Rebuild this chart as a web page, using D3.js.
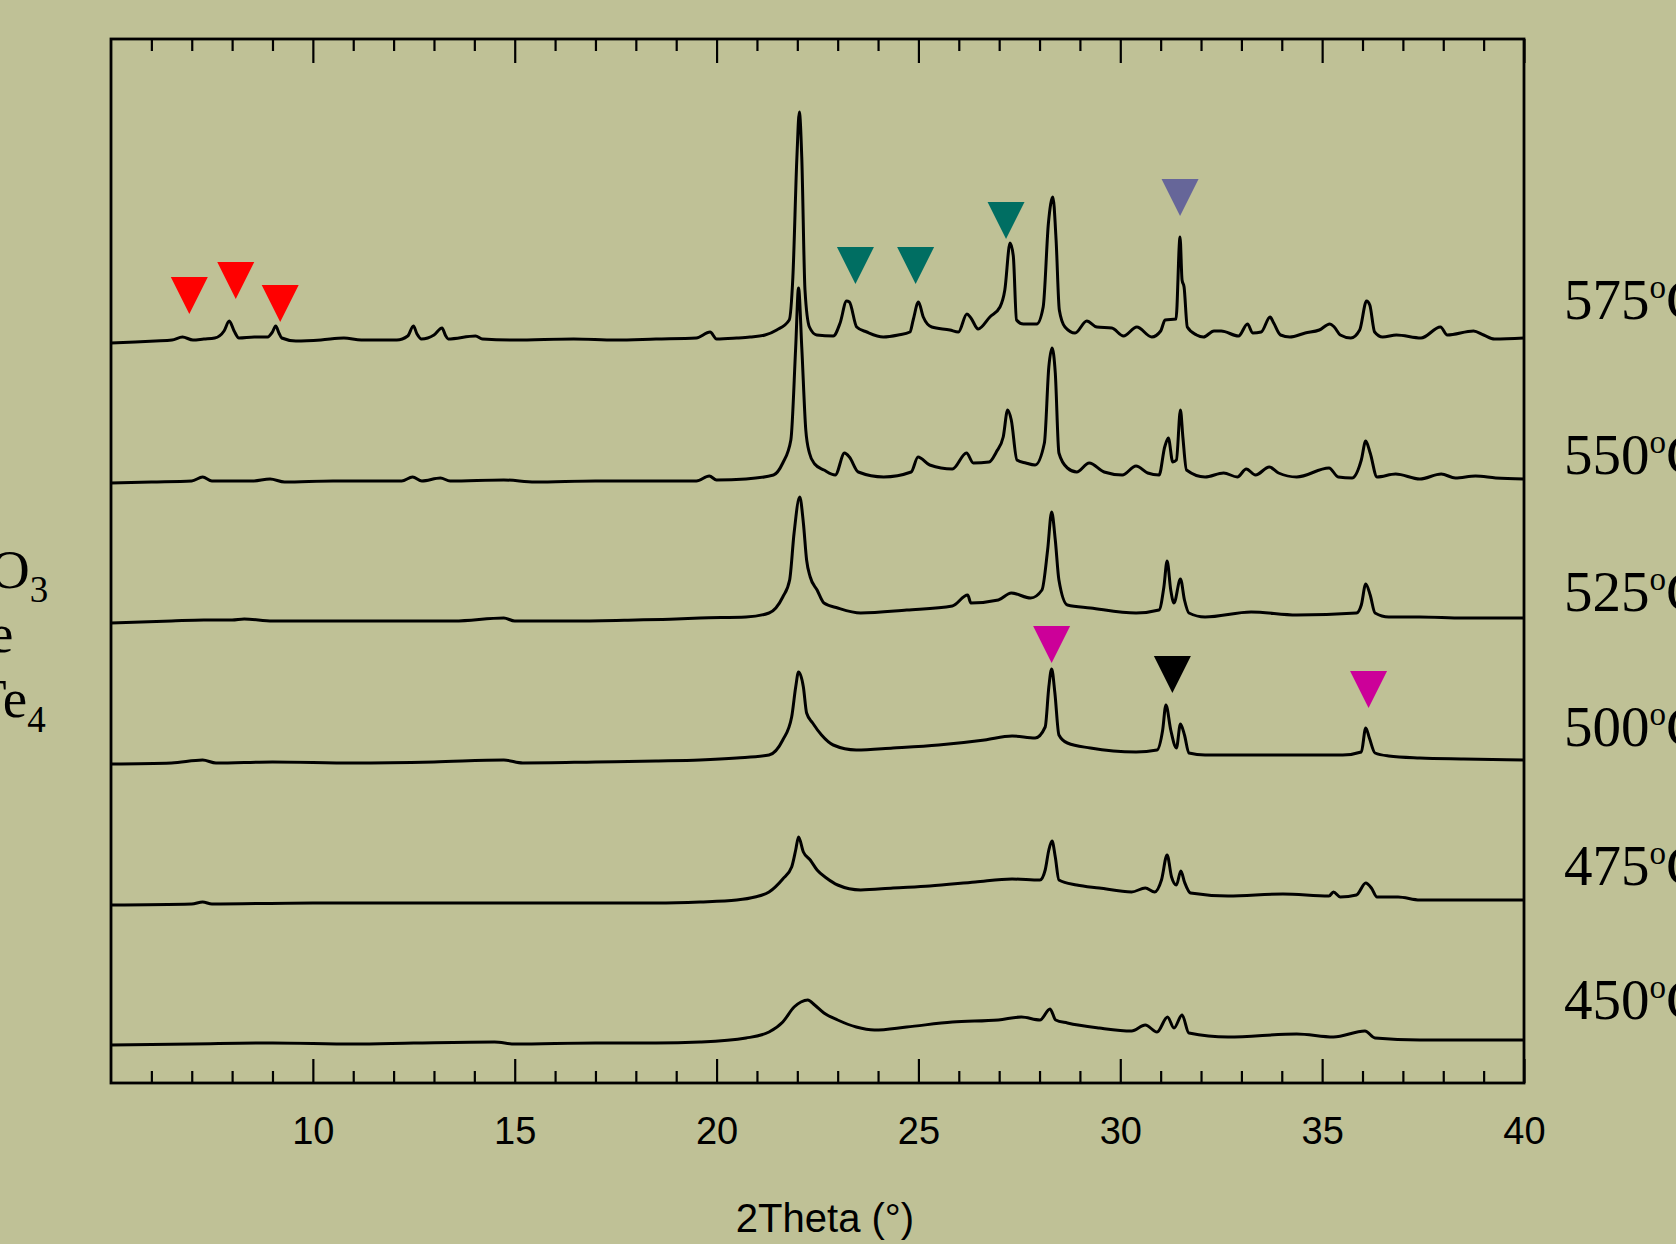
<!DOCTYPE html>
<html>
<head>
<meta charset="utf-8">
<script src="https://cdn.jsdelivr.net/npm/d3@7"></script>
<style>
  html, body { margin: 0; padding: 0; background: #bfc196; overflow: hidden; }
  svg { display: block; }
</style>
</head>
<body>
<svg id="chart" width="1676" height="1244"></svg>
<script>
// ---- XRD patterns, one per annealing temperature: [2theta (deg), intensity above the pattern's own baseline (a.u.)]
const temperatures = [575, 550, 525, 500, 475, 450];
const stackOffsets = [740, 600, 460, 319, 178, 38];   // vertical offset of each pattern in the stack (a.u.)

const pattern575 = [
  [5.0,0],[5.6,1],[6.1,2],[6.51,3],[6.77,6],[7.03,3],[7.3,4],[7.57,5],[7.8,12],[7.93,22],[8.05,12],[8.17,5],
  [8.55,6],[8.88,6],[9.0,11],[9.08,17],[9.16,10],[9.23,5],[9.58,2],[10.2,3],[10.77,5],[11.2,3],[12.08,3],
  [12.35,7],[12.49,17],[12.58,9],[12.69,4],[13.0,8],[13.2,15],[13.28,8],[13.35,4],[14.03,7],[14.2,4],[15.0,3],
  [16.46,4],[17.5,3],[18.5,4],[19.5,5],[19.84,11],[20.0,4],[20.5,5],[20.83,6],[21.2,8],[21.49,13],[21.8,23],
  [21.89,66],[21.99,186],[22.05,231],[22.11,186],[22.19,53],[22.3,16],[22.48,8],[22.89,7],[23.06,20],[23.22,42],
  [23.29,41],[23.47,16],[23.72,11],[24.13,6],[24.5,8],[24.79,11],[24.87,23],[25.0,41],[25.12,26],[25.33,16],
  [25.78,13],[25.99,11],[26.2,29],[26.3,25],[26.48,14],[26.77,26],[27.02,36],[27.14,53],[27.27,100],[27.35,87],
  [27.43,23],[27.6,19],[27.93,19],[28.09,36],[28.22,120],[28.33,146],[28.41,103],[28.49,33],[28.63,16],[28.88,10],
  [29.17,22],[29.42,16],[29.79,15],[30.08,7],[30.41,16],[30.78,6],[31.0,12],[31.11,23],[31.38,24],[31.48,106],
  [31.53,63],[31.58,56],[31.66,16],[31.89,8],[32.06,6],[32.32,12],[32.5,12],[32.93,7],[33.15,19],[33.28,10],
  [33.49,11],[33.71,26],[33.8,20],[33.97,8],[34.2,6],[34.58,10],[34.93,13],[35.19,19],[35.3,16],[35.45,8],
  [35.71,5],[35.93,13],[36.1,42],[36.18,38],[36.3,11],[36.5,6],[36.84,8],[37.45,5],[37.93,16],[38.1,8],
  [38.75,12],[39.0,8],[39.27,4],[40.0,5]
];

const pattern550 = [
  [5.0,0],[6.0,1],[7.0,2],[7.27,6],[7.5,2],[8.5,2],[8.94,4],[9.3,1],[10.5,2],[12.2,2],[12.47,6],[12.7,2],
  [13.16,5],[13.4,2],[14.73,3],[15.5,1],[17.0,2],[18.5,2],[19.5,2],[19.82,7],[20.0,3],[20.73,4],[21.41,8],
  [21.64,20],[21.84,43],[21.96,136],[22.03,195],[22.11,136],[22.21,53],[22.3,30],[22.43,19],[22.66,13],[22.94,8],
  [23.17,30],[23.29,26],[23.51,11],[24.14,6],[24.82,11],[24.99,26],[25.28,18],[25.84,14],[26.19,30],[26.36,20],
  [26.75,21],[26.93,31],[27.1,46],[27.21,73],[27.3,63],[27.44,23],[27.66,20],[27.89,18],[28.12,40],[28.23,116],
  [28.31,135],[28.39,110],[28.48,30],[28.69,15],[28.92,11],[29.23,20],[29.6,11],[30.05,8],[30.39,17],[30.68,10],
  [30.96,8],[31.1,36],[31.19,45],[31.3,21],[31.39,23],[31.49,73],[31.55,46],[31.64,13],[32.1,6],[32.56,10],
  [32.9,6],[33.12,14],[33.35,8],[33.69,16],[33.92,10],[34.37,6],[35.17,15],[35.4,6],[35.74,5],[35.97,23],
  [36.08,42],[36.19,30],[36.36,6],[36.82,9],[37.42,4],[37.95,9],[38.3,5],[38.8,7],[39.3,5],[40.0,4]
];

const pattern525 = [
  [5.0,0],[6.5,2],[7.3,3],[8.0,3],[8.3,4],[9.0,2],[10.5,2],[12.0,2],[13.5,2],[14.73,5],[15.0,2],[16.5,2],
  [18.0,3],[19.0,4],[19.59,5],[20.73,6],[21.3,10],[21.64,26],[21.81,43],[21.92,90],[22.06,126],[22.15,100],
  [22.23,63],[22.32,46],[22.49,33],[22.66,20],[23.0,15],[23.57,10],[24.71,13],[25.84,17],[26.22,28],[26.3,20],
  [26.98,23],[27.3,30],[27.78,25],[28.06,33],[28.2,73],[28.3,111],[28.39,83],[28.48,43],[28.69,18],[29.26,15],
  [30.39,10],[30.96,13],[31.08,36],[31.16,62],[31.25,33],[31.33,20],[31.49,44],[31.59,23],[31.7,10],[32.1,6],
  [33.24,11],[34.37,8],[35.85,10],[35.97,18],[36.08,39],[36.19,28],[36.31,10],[36.65,6],[37.42,6],[38.5,5],[40.0,5]
];

const pattern500 = [
  [5.0,0],[6.5,1],[7.27,4],[7.6,1],[9.0,2],[11.0,1],[13.0,2],[14.73,4],[15.2,1],[17.0,2],[18.5,3],[19.59,4],
  [20.5,6],[21.3,9],[21.64,24],[21.86,47],[21.96,77],[22.03,92],[22.15,77],[22.23,51],[22.38,41],[22.6,29],
  [22.89,19],[23.46,14],[24.37,16],[25.5,19],[26.64,24],[27.32,28],[27.89,26],[28.14,37],[28.23,77],[28.3,95],
  [28.38,71],[28.48,29],[28.69,21],[29.26,16],[30.39,12],[30.91,14],[31.05,34],[31.13,59],[31.25,34],[31.39,16],
  [31.49,40],[31.59,29],[31.7,11],[32.1,9],[33.81,9],[35.51,9],[35.97,12],[36.08,36],[36.17,26],[36.31,11],
  [36.65,8],[37.42,6],[38.5,5],[40.0,4]
];

const pattern475 = [
  [5.0,0],[7.0,1],[7.27,3],[7.5,1],[10.0,2],[13.0,2],[15.0,2],[17.0,2],[18.5,2],[19.59,3],[20.5,5],[20.95,8],
  [21.3,13],[21.64,26],[21.86,38],[21.96,55],[22.03,68],[22.15,53],[22.32,45],[22.49,35],[22.72,27],[23.0,20],
  [23.57,15],[24.37,17],[25.28,19],[26.41,23],[27.32,26],[28.01,25],[28.14,35],[28.23,55],[28.31,64],[28.39,48],
  [28.48,25],[28.92,20],[29.48,17],[30.28,13],[30.62,17],[30.85,13],[31.02,25],[31.16,50],[31.27,28],[31.39,20],
  [31.5,34],[31.59,23],[31.74,12],[32.67,9],[34.03,11],[35.17,9],[35.28,13],[35.45,8],[35.85,10],[36.08,22],
  [36.22,17],[36.36,8],[36.88,8],[37.42,5],[38.5,5],[40.0,5]
];

const pattern450 = [
  [5.0,0],[7.0,1],[9.0,2],[11.0,1],[12.5,2],[14.5,3],[15.0,1],[17.0,2],[18.5,2],[19.59,3],[20.73,7],[21.3,13],
  [21.64,23],[21.92,38],[22.09,43],[22.26,45],[22.43,40],[22.66,32],[23.0,25],[23.46,18],[23.91,15],[24.71,18],
  [25.84,23],[26.98,25],[27.55,28],[28.01,25],[28.26,36],[28.4,25],[28.69,22],[29.48,17],[30.28,14],[30.62,20],
  [30.91,13],[31.17,28],[31.33,17],[31.53,30],[31.7,12],[32.67,8],[34.37,11],[35.28,8],[36.06,14],[36.31,7],
  [37.42,5],[38.5,5],[40.0,5]
];

const patterns = [pattern575, pattern550, pattern525, pattern500, pattern475, pattern450];

// ---- phase markers: 2theta and the intensity (a.u., stacked scale) where the marker tip sits
const markerTheta = [6.94, 8.09, 9.19, 23.44, 24.93, 27.17, 31.48, 28.30, 31.29, 36.15];
const markerTip   = [769, 784, 761, 799, 799, 844, 867, 420, 390, 375];
const markerPhase = ["A", "A", "A", "B", "B", "B", "C", "D", "E", "D"];
const phaseColor  = { A: "#ff0000", B: "#006e62", C: "#666699", D: "#cc0099", E: "#000000" };

// ---- axis
const thetaDomain = [5, 40];
const majorTicks = [10, 15, 20, 25, 30, 35, 40];
const minorTicks = d3.range(6, 40, 1).filter(v => v % 5 !== 0);
const intensityDomain = [0, 1044];

// ---- layout
const plot = { left: 111, top: 39, right: 1524, bottom: 1083 };
const svg = d3.select("#chart");

svg.append("rect").attr("width", 1676).attr("height", 1244).attr("fill", "#bfc196");

const x = d3.scaleLinear().domain(thetaDomain).range([plot.left, plot.right]);
const y = d3.scaleLinear().domain(intensityDomain).range([plot.bottom, plot.top]);

// patterns
const g = svg.append("g");
patterns.forEach((pts, i) => {
  const off = stackOffsets[i];
  const line = d3.line()
    .x(d => x(d[0]))
    .y(d => y(d[1] + off))
    .curve(d3.curveMonotoneX);
  g.append("path")
    .datum(pts)
    .attr("d", line)
    .attr("fill", "none")
    .attr("stroke", "#000")
    .attr("stroke-width", 3)
    .attr("stroke-linejoin", "round");
});

// markers: downward-pointing triangles with the tip at the marked position
const triW = 37, triH = 37;
svg.append("g").selectAll("path")
  .data(markerTheta.map((t, i) => ({ t, v: markerTip[i], p: markerPhase[i] })))
  .join("path")
  .attr("d", d => {
    const cx = x(d.t), ty = y(d.v);
    return `M${cx - triW / 2},${ty - triH}L${cx + triW / 2},${ty - triH}L${cx},${ty}Z`;
  })
  .attr("fill", d => phaseColor[d.p]);

// bottom and top axes: minor and major ticks pointing inward
const bottomMinor = d3.axisBottom(x).tickValues(minorTicks).tickSize(-12).tickFormat("").tickSizeOuter(0);
const bottomMajor = d3.axisBottom(x).tickValues(majorTicks).tickSize(-24).tickSizeOuter(0).tickFormat(d3.format("d"));
const topMinor = d3.axisTop(x).tickValues(minorTicks).tickSize(-12).tickFormat("").tickSizeOuter(0);
const topMajor = d3.axisTop(x).tickValues(majorTicks).tickSize(-24).tickFormat("").tickSizeOuter(0);

function styleAxis(sel) {
  sel.select(".domain").remove();
  sel.selectAll(".tick line").attr("stroke", "#000").attr("stroke-width", 2.2);
}

svg.append("g").attr("transform", `translate(0,${plot.bottom})`).call(bottomMinor).call(styleAxis);
const bAx = svg.append("g").attr("transform", `translate(0,${plot.bottom})`).call(bottomMajor).call(styleAxis);
bAx.selectAll(".tick text")
  .attr("y", 61).attr("dy", null)
  .attr("fill", "#000")
  .attr("font-family", "'Liberation Sans', Arial, sans-serif")
  .attr("font-size", 38);
svg.append("g").attr("transform", `translate(0,${plot.top})`).call(topMinor).call(styleAxis);
svg.append("g").attr("transform", `translate(0,${plot.top})`).call(topMajor).call(styleAxis);

// frame
svg.append("rect")
  .attr("x", plot.left).attr("y", plot.top)
  .attr("width", plot.right - plot.left).attr("height", plot.bottom - plot.top)
  .attr("fill", "none").attr("stroke", "#000").attr("stroke-width", 2.8);

// axis title
svg.append("text")
  .attr("x", 825).attr("y", 1232)
  .attr("text-anchor", "middle")
  .attr("font-family", "'Liberation Sans', Arial, sans-serif")
  .attr("font-size", 40)
  .attr("fill", "#000")
  .text("2Theta (°)");

// temperature labels at the right of each pattern
const labelNudge = [-24, -9, -12, -18, -20, -26];
const serif = "'Liberation Serif', 'Times New Roman', serif";
temperatures.forEach((tC, i) => {
  const t = svg.append("text")
    .attr("x", 1564)
    .attr("y", y(stackOffsets[i]) + labelNudge[i])
    .attr("font-family", serif)
    .attr("font-size", 57)
    .attr("fill", "#000");
  t.append("tspan").text(String(tC));
  t.append("tspan").attr("font-size", 33).attr("dy", -21).text("o");
  t.append("tspan").attr("font-size", 57).attr("dy", 21).text("C");
});

// phase legend entries at the left edge
const legend = svg.append("g")
  .attr("font-family", serif)
  .attr("font-size", 55)
  .attr("fill", "#000");
const l1 = legend.append("text").attr("x", -10).attr("y", 588);
l1.append("tspan").text("O");
l1.append("tspan").attr("font-size", 37).attr("dy", 14).text("3");
legend.append("text").attr("x", -11).attr("y", 652).text("e");
const l3 = legend.append("text").attr("x", -27).attr("y", 717);
l3.append("tspan").text("Te");
l3.append("tspan").attr("font-size", 37).attr("dy", 15).text("4");
</script>
</body>
</html>
